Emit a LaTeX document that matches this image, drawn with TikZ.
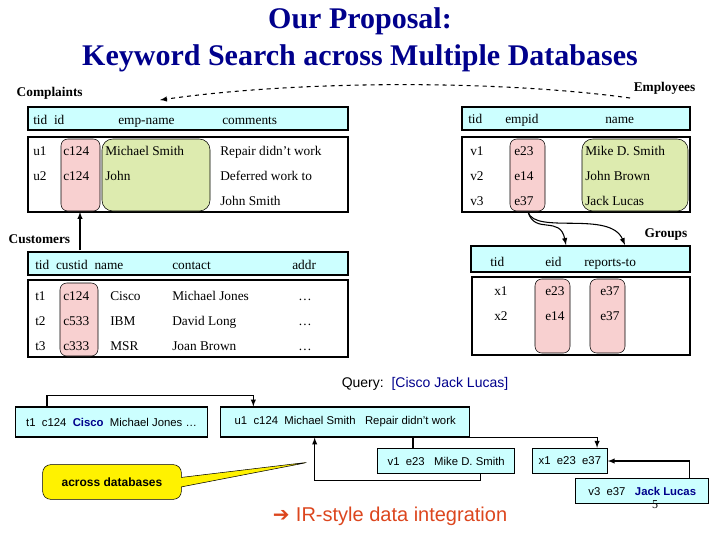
\documentclass[tikz,border=0pt]{standalone}
\usepackage{fontspec}
\setmainfont{Liberation Serif}
\setsansfont{Liberation Sans}
\usetikzlibrary{positioning,shapes.callouts}
\definecolor{hdcyan}{RGB}{204,255,255}
\definecolor{keypink}{RGB}{248,208,208}
\definecolor{namegreen}{RGB}{221,235,175}
\definecolor{titleblue}{RGB}{0,0,140}
\definecolor{irred}{RGB}{220,70,30}
\tikzset{
  hdbox/.style={draw, thick, fill=hdcyan},
  bodybox/.style={draw, thick, fill=white},
  keybox/.style={draw, rounded corners=5pt, fill=keypink},
  namebox/.style={draw, rounded corners=8pt, fill=namegreen},
  cell/.style={anchor=base west, inner sep=0pt, yshift=-4pt, font=\fontsize{10}{12}\selectfont},
  tupbox/.style={draw, thick, fill=hdcyan, anchor=west, minimum height=22.5pt, inner sep=2pt, font=\sffamily\fontsize{8.5}{10}\selectfont},
  link/.style={thick, -latex}
}
\begin{document}
\begin{tikzpicture}[x=0.75pt, y=-0.75pt]
\useasboundingbox (0,0) rectangle (720,540);
% Title
\node[font=\bfseries\fontsize{22.5}{28}\selectfont, text=titleblue, align=center] (title) at (360,40) {Our Proposal:\\Keyword Search across Multiple Databases};

% Complaints
\node[font=\bfseries\fontsize{10}{12}\selectfont, anchor=west] (complaintslbl) at (12,93) {Complaints};
\draw[hdbox] (28,107) rectangle (348,130);
\draw[bodybox] (28,137) rectangle (348,212);
\draw[keybox] (61,139) rectangle (100,211);
\draw[namebox] (102,139) rectangle (210,211);
\node[cell] (c1) at (33,119) {tid\ \ id};
\node[cell] (c2) at (118,119) {emp-name};
\node[cell] (c3) at (222,119) {comments};
\foreach \y/\t/\n in {150/u1/Michael Smith, 175/u2/John}{
  \node[cell] at (33,\y) {\t};
  \node[cell] at (63,\y) {c124};
  \node[cell] at (105,\y) {\n};
}
\node[cell] (r1) at (220,150) {Repair didn’t work};
\node[cell] (r2) at (220,175) {Deferred work to};
\node[cell] (r3) at (220,200) {John Smith};

% Employees
\node[font=\bfseries\fontsize{10}{12}\selectfont, anchor=east] (employeeslbl) at (700,88) {Employees};
\draw[hdbox] (462,107) rectangle (690,130);
\draw[bodybox] (462,137) rectangle (690,212);
\draw[keybox] (510,139) rectangle (545,211);
\draw[namebox] (582,139) rectangle (688,211);
\node[cell] (e1) at (468,118) {tid};
\node[cell] (e2) at (505,118) {empid};
\node[cell] (e3) at (605,118) {name};
\foreach \y/\t/\k/\n in {150/v1/e23/Mike D. Smith, 175/v2/e14/John Brown, 200/v3/e37/Jack Lucas}{
  \node[cell] at (470,\y) {\t};
  \node[cell] at (514,\y) {\k};
  \node[cell] at (585,\y) {\n};
}
\coordinate (empkey) at (528,212);

% Customers
\node[font=\bfseries\fontsize{10}{12}\selectfont, anchor=west] (customerslbl) at (4,239) {Customers};
\draw[hdbox] (28,252) rectangle (348,275);
\draw[bodybox] (28,280) rectangle (348,357);
\draw[keybox] (60,283) rectangle (98,356);
\node[cell] (k1) at (35,264) {tid\ \ custid\ \ name};
\node[cell] (k2) at (172,264) {contact};
\node[cell] (k3) at (292,264) {addr};
\foreach \y/\t/\k/\n/\c in {295/t1/c124/Cisco/Michael Jones, 320/t2/c533/IBM/David Long, 345/t3/c333/MSR/Joan Brown}{
  \node[cell] at (35,\y) {\t};
  \node[cell] at (63,\y) {\k};
  \node[cell] at (110,\y) {\n};
  \node[cell] at (172,\y) {\c};
  \node[cell] at (298,\y) {\dots};
}

% Groups
\node[font=\bfseries\fontsize{10}{12}\selectfont, anchor=east] (groupslbl) at (692,234) {Groups};
\draw[hdbox] (471,246) rectangle (690,272);
\draw[bodybox] (472,277) rectangle (690,355);
\draw[keybox] (535,279) rectangle (570,353);
\draw[keybox] (590,279) rectangle (625,353);
\node[cell] (g1) at (490,261) {tid};
\node[cell] (g2) at (545,261) {eid};
\node[cell] (g3) at (584,261) {reports-to};
\foreach \y/\t/\a/\b in {290/x1/e23/e37, 315/x2/e14/e37}{
  \node[cell] at (494,\y) {\t};
  \node[cell] at (545,\y) {\a};
  \node[cell] at (600,\y) {\b};
}

% Links between schemas
\draw[link] (80,250) -- (80,212);
\draw[thick, dashed, -latex] (630,98) .. controls (500,80) and (300,80) .. (160,100);
\draw[thick, -latex] (empkey) .. controls (535,235) and (560,215) .. (566,245);
\draw[thick, -latex] (empkey) .. controls (535,235) and (610,210) .. (625,245);

% Query
\node[font=\sffamily\fontsize{10.5}{12}\selectfont] (query) at (425,384) {Query:\ \ \textcolor{titleblue}{[Cisco Jack Lucas]}};

% Tuple tree
\node[tupbox, minimum width=144pt] (t1) at (15,422) {t1\ \ c124\ \ \textcolor{titleblue}{\bfseries Cisco}\ \ Michael Jones \dots};
\node[tupbox, minimum width=187pt] (u1) at (220,422) {u1\ \ c124\ \ Michael Smith\ \ \ Repair didn't work};
\node[tupbox, minimum width=103pt, minimum height=19pt] (v1) at (377,461) {v1\ \ e23\ \ \ Mike D. Smith};
\node[tupbox, minimum width=56pt, minimum height=19pt] (x1) at (532,461) {x1\ \ e23\ \ e37};
\node[tupbox, minimum width=100pt, minimum height=19pt] (v3) at (575,491) {v3\ \ e37\ \ \ \textcolor{titleblue}{\bfseries Jack Lucas}};
\draw[link] ([xshift=24pt]t1.north west) |- ++(0,-11) -| ([xshift=25pt]u1.north west);
\draw[link] ([xshift=-26pt]v1.south east) |- ++(0,6) -| ([xshift=71pt]u1.south west);
\draw[link] ([xshift=27pt]v1.north west) |- ++(0,-10) -| ([xshift=-8pt]x1.north east);
\draw[link] ([xshift=-15pt]v3.north east) |- (x1.east);

% Callout
\node[draw, rounded corners=6pt, fill=yellow, rectangle callout, callout absolute pointer={(310,462)}, minimum width=104pt, minimum height=26pt, font=\sffamily\bfseries\fontsize{9}{11}\selectfont] (callout) at (112,482) {across databases};

\node[font=\sffamily\fontsize{15}{18}\selectfont, text=irred] (irstyle) at (390,516) {\fontspec{DejaVu Sans}\textbf{➔}\ \sffamily IR-style data integration};
\node[font=\fontsize{9}{10}\selectfont] (pagenum) at (655,505) {5};
\end{tikzpicture}
\end{document}
